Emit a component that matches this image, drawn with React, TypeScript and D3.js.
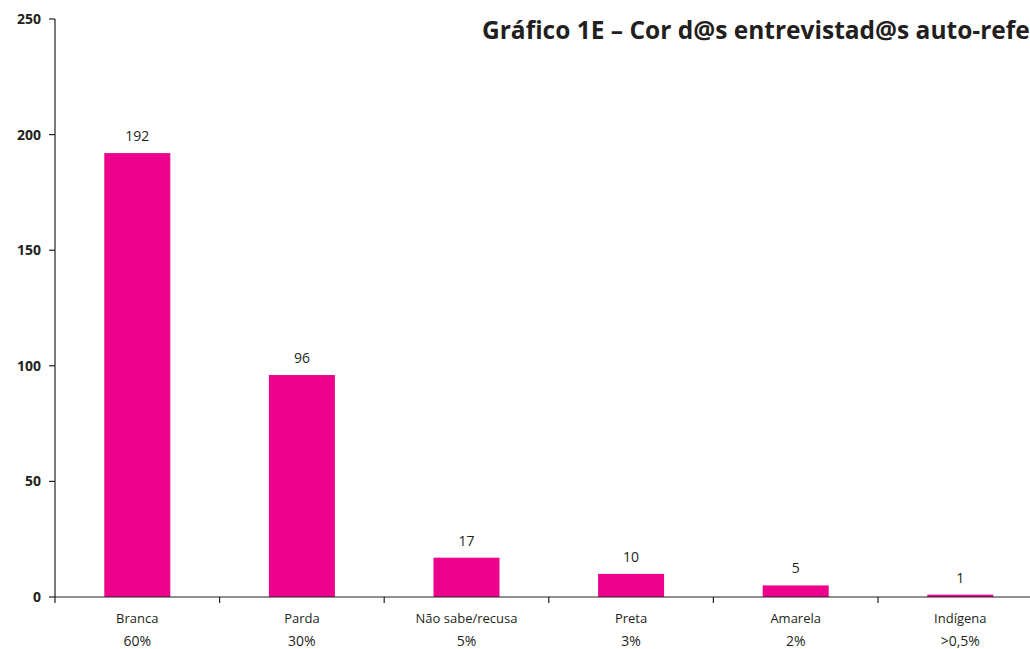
import React from "react";
import * as d3 from "d3";

const categories = ["Branca", "Parda", "Não sabe/recusa", "Preta", "Amarela", "Indígena"];
const percents = ["60%", "30%", "5%", "3%", "2%", ">0,5%"];
const values = [192, 96, 17, 10, 5, 1];
const yTicks = [0, 50, 100, 150, 200, 250];
const title = "Gráfico 1E – Cor d@s entrevistad@s auto-referidas";

const W = 1030;
const H = 649;
const FONT = "'Open Sans', 'Noto Sans', sans-serif";

export default function App() {
  const x = d3.scaleBand<string>().domain(categories).range([55, 55 + 164.6 * 6]).paddingInner(0).paddingOuter(0);
  const y = d3.scaleLinear().domain([0, 250]).range([597, 19]);
  const bw = 66;
  return (
    <svg width={W} height={H} style={{ position: "absolute", left: 0, top: 0, background: "#fff" }} fontFamily={FONT}>
      <text x={482} y={39} fontSize={24.5} fontWeight={700} fill="#231f20">{title}</text>
      {/* y axis */}
      <line x1={55} x2={55} y1={y(250)} y2={y(0)} stroke="#231f20" strokeWidth={1.2} />
      {yTicks.map((t) => (
        <g key={t}>
          <line x1={49} x2={55} y1={y(t)} y2={y(t)} stroke="#231f20" strokeWidth={1.2} />
          <text x={41} y={y(t)} dy="0.35em" textAnchor="end" fontSize={14} fontWeight={700} fill="#231f20">{t}</text>
        </g>
      ))}
      {/* bars */}
      {categories.map((c, i) => {
        const cx = (x(c) as number) + x.bandwidth() / 2;
        return (
          <g key={c}>
            <rect x={cx - bw / 2} y={y(values[i])} width={bw} height={y(0) - y(values[i])} fill="#ec008c" />
            <text x={cx} y={y(values[i]) - 12} textAnchor="middle" fontSize={14} fill="#231f20">{values[i]}</text>
            <text x={cx} y={623} textAnchor="middle" fontSize={13} fill="#231f20">{c}</text>
            <text x={cx} y={646} textAnchor="middle" fontSize={14} fill="#231f20">{percents[i]}</text>
          </g>
        );
      })}
      {/* x axis */}
      <line x1={55} x2={W} y1={y(0)} y2={y(0)} stroke="#231f20" strokeWidth={1.2} />
      {d3.range(7).map((i) => {
        const tx = 55 + x.step() * i;
        return <line key={i} x1={tx} x2={tx} y1={y(0)} y2={y(0) + 6} stroke="#231f20" strokeWidth={1.2} />;
      })}
    </svg>
  );
}
